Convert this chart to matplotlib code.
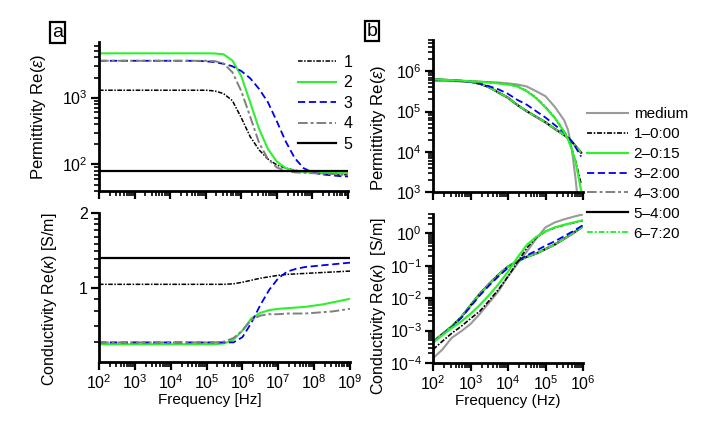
import numpy as np
import matplotlib
matplotlib.use("Agg")
import matplotlib.pyplot as plt
from matplotlib.ticker import LogLocator, FixedLocator, NullFormatter, FixedFormatter

plt.rcParams['font.family'] = ['Liberation Sans', 'DejaVu Sans']
plt.rcParams['mathtext.fontset'] = 'custom'
plt.rcParams['mathtext.rm'] = 'Liberation Sans'
plt.rcParams['mathtext.it'] = 'Liberation Sans:italic'
plt.rcParams['mathtext.bf'] = 'Liberation Sans:bold'

# ---------------- Panel a data ----------------
exp_a = [2.0, 2.25, 2.5, 2.75, 3.0, 3.25, 3.5, 3.75, 4.0, 4.25, 4.5, 4.75, 5.0, 5.25,
         5.5, 5.75, 6.0, 6.25, 6.5, 6.75, 7.0, 7.25, 7.5, 7.75, 8.0, 8.25, 8.5, 8.75, 9.0]
labels_a = ['1', '2', '3', '4', '5']

eps_a1 = [1290]*13 + [1260, 1150, 900, 500, 260, 165, 120, 98, 88, 82, 78, 75, 73, 72, 71, 70]
eps_a2 = [4600]*13 + [4580, 4450, 3600, 2100, 850, 340, 170, 110, 88, 80, 77, 76, 75, 75, 74, 74]
eps_a3 = [3560]*11 + [3540, 3500, 3400, 3200, 2950, 2500, 1950, 1350, 850, 440, 220, 125, 88,
                      76, 71, 69, 67, 66]
eps_a4 = [3560]*13 + [3520, 3250, 2400, 1250, 520, 210, 120, 90, 80, 76, 75, 74, 73, 72, 71, 70]
eps_a5 = [79]*29

sig_a1 = [1.03]*15 + [1.035, 1.05, 1.07, 1.09, 1.105, 1.12, 1.13, 1.135, 1.14, 1.145, 1.15,
                      1.155, 1.16, 1.165]
sig_a2 = [0.59]*13 + [0.59, 0.595, 0.615, 0.67, 0.75, 0.79, 0.81, 0.82, 0.825, 0.83, 0.835,
                      0.845, 0.855, 0.87, 0.885, 0.90]
sig_a3 = [0.60]*16 + [0.63, 0.72, 0.85, 0.98, 1.09, 1.16, 1.19, 1.21, 1.22, 1.23, 1.24, 1.25, 1.26]
sig_a4 = [0.60]*14 + [0.605, 0.625, 0.67, 0.74, 0.77, 0.78, 0.78, 0.785, 0.785, 0.785, 0.79,
                      0.795, 0.80, 0.81, 0.82]
sig_a5 = [1.32]*29

# ---------------- Panel b data ----------------
exp_b_eps = [2.0, 2.25, 2.5, 2.75, 3.0, 3.25, 3.5, 3.75, 4.0, 4.25, 4.5, 4.75, 5.0, 5.25,
             5.5, 5.6, 5.7, 5.8, 5.95]
exp_b_sig = [2.0, 2.25, 2.5, 2.75, 3.0, 3.25, 3.5, 3.75, 4.0, 4.25, 4.5, 4.75, 5.0, 5.25,
             5.5, 5.75, 6.0]
labels_b = ['medium', '1\u20130:00', '2\u20130:15', '3\u20132:00', '4\u20133:00',
            '5\u20134:00', '6\u20137:20']

eps_b_med = [5.75e5, 5.75e5, 5.7e5, 5.6e5, 5.6e5, 5.5e5, 5.4e5, 5.25e5, 5.0e5, 4.7e5, 4.2e5,
             3.2e5, 2.4e5, 1.3e5, 6.0e4, 3.5e4, 1.2e4, 2.2e3, 1.0e2]
eps_b1 = [6.2e5, 6.1e5, 6.0e5, 5.85e5, 5.6e5, 5.5e5, 5.3e5, 5.05e5, 4.75e5, 4.25e5, 3.25e5,
          2.2e5, 1.3e5, 7.0e4, 3.15e4, 2.1e4, 1.2e4, 6.0e3, 1.6e3]
eps_b2 = [6.3e5, 6.15e5, 6.0e5, 5.9e5, 5.6e5, 5.5e5, 5.25e5, 5.0e5, 4.7e5, 4.2e5, 3.2e5,
          2.15e5, 1.26e5, 6.9e4, 3.1e4, 2.05e4, 1.15e4, 5.75e3, 1.1e3]
eps_b3 = [6.3e5, 6.15e5, 6.0e5, 5.75e5, 5.5e5, 4.9e5, 4.25e5, 3.55e5, 2.75e5, 1.95e5, 1.48e5,
          1.02e5, 7.1e4, 4.6e4, 3.0e4, 2.35e4, 1.8e4, 1.3e4, 7.6e3]
eps_b4 = [6.4e5, 6.2e5, 6.05e5, 5.8e5, 5.5e5, 4.9e5, 4.0e5, 2.95e5, 2.2e5, 1.45e5, 1.02e5,
          7.4e4, 5.4e4, 3.7e4, 2.6e4, 2.2e4, 1.8e4, 1.4e4, 9.5e3]
eps_b5 = [6.3e5, 6.15e5, 6.0e5, 5.75e5, 5.5e5, 4.9e5, 4.0e5, 2.95e5, 2.2e5, 1.45e5, 1.02e5,
          7.4e4, 5.4e4, 3.7e4, 2.6e4, 2.2e4, 1.8e4, 1.4e4, 9.5e3]
eps_b6 = [6.3e5, 6.2e5, 6.0e5, 5.8e5, 5.5e5, 4.9e5, 4.0e5, 2.95e5, 2.2e5, 1.45e5, 1.02e5,
          7.4e4, 5.4e4, 3.7e4, 2.6e4, 2.2e4, 1.8e4, 1.4e4, 9.5e3]

sig_b_med = [1.4e-4, 2.6e-4, 6.0e-4, 9.5e-4, 1.6e-3, 3.3e-3, 7.4e-3, 1.66e-2, 4.7e-2, 0.115,
             0.275, 0.68, 1.55, 2.2, 2.75, 3.3, 3.9]
sig_b1 = [2.6e-4, 4.7e-4, 8.3e-4, 1.35e-3, 2.35e-3, 4.0e-3, 8.5e-3, 1.9e-2, 4.7e-2, 0.129,
          0.355, 0.74, 1.15, 1.51, 1.82, 2.14, 2.5]
sig_b2 = [4.2e-4, 7.2e-4, 1.2e-3, 1.9e-3, 3.3e-3, 6.2e-3, 1.26e-2, 2.75e-2, 6.6e-2, 0.18,
          0.44, 0.78, 1.17, 1.55, 1.86, 2.2, 2.57]
sig_b3 = [4.4e-4, 7.6e-4, 1.29e-3, 2.45e-3, 5.5e-3, 1.23e-2, 2.5e-2, 4.8e-2, 8.7e-2, 0.138,
          0.21, 0.295, 0.42, 0.575, 0.83, 1.2, 1.82]
sig_b4 = [4.5e-4, 7.8e-4, 1.35e-3, 2.6e-3, 6.0e-3, 1.38e-2, 2.8e-2, 5.4e-2, 9.5e-2, 0.138,
          0.19, 0.24, 0.33, 0.46, 0.69, 1.05, 1.66]
sig_b5 = [4.5e-4, 7.8e-4, 1.35e-3, 2.6e-3, 6.0e-3, 1.38e-2, 2.8e-2, 5.4e-2, 9.5e-2, 0.138,
          0.19, 0.24, 0.33, 0.46, 0.69, 1.05, 1.66]
sig_b6 = [4.5e-4, 7.8e-4, 1.35e-3, 2.6e-3, 6.0e-3, 1.38e-2, 2.8e-2, 5.4e-2, 9.5e-2, 0.138,
          0.19, 0.24, 0.33, 0.46, 0.69, 1.05, 1.66]

f_a = 10.0 ** np.array(exp_a)
f_be = 10.0 ** np.array(exp_b_eps)
f_bs = 10.0 ** np.array(exp_b_sig)

# ---------------- styles ----------------
GREEN = '#2ef02e'
GREY = '#808080'
MEDGREY = '#9a9a9a'
st_a = [
    dict(color='black', lw=1.1, ls=(0, (3, 1, 1, 1))),
    dict(color=GREEN, lw=1.5, ls='-'),
    dict(color='#0000ee', lw=1.3, ls=(0, (4, 2))),
    dict(color=GREY, lw=1.4, ls=(0, (5, 1.5, 1.5, 1.5))),
    dict(color='black', lw=1.6, ls='-'),
]
st_b = [
    dict(color=MEDGREY, lw=1.5, ls='-'),
    dict(color='black', lw=1.2, ls=(0, (3, 1, 1, 1))),
    dict(color=GREEN, lw=1.6, ls='-'),
    dict(color='#0000ee', lw=1.3, ls=(0, (4, 2))),
    dict(color=GREY, lw=1.4, ls=(0, (5, 1.5, 1.5, 1.5))),
    dict(color='black', lw=1.6, ls='-'),
    dict(color=GREEN, lw=1.4, ls=(0, (3, 1, 1, 1))),
]

W, H = 708, 423
fig = plt.figure(figsize=(W / 100, H / 100), dpi=100)

def rect(x0, x1, y0, y1):
    return [x0 / W, 1 - y1 / H, (x1 - x0) / W, (y1 - y0) / H]

ax_a1 = fig.add_axes(rect(99, 348, 42, 191))
ax_a2 = fig.add_axes(rect(99, 350, 213, 362))
ax_b1 = fig.add_axes(rect(433, 583, 40, 192))
ax_b2 = fig.add_axes(rect(433, 583, 214, 363))

def style(ax):
    for s in ['top', 'right']:
        ax.spines[s].set_visible(False)
    for s in ['left', 'bottom']:
        ax.spines[s].set_linewidth(2.0)
    ax.tick_params(which='major', direction='out', length=6, width=1.6, labelsize=11.5, pad=2)
    ax.tick_params(which='minor', direction='out', length=3.5, width=1.2)

def xlog(ax, lo, hi, labels=True):
    ax.set_xscale('log')
    ax.set_xlim(10.0 ** lo, 10.0 ** hi)
    ax.xaxis.set_major_locator(LogLocator(base=10, numticks=20))
    ax.xaxis.set_minor_locator(LogLocator(base=10, subs=np.arange(2, 10), numticks=20))
    ax.xaxis.set_minor_formatter(NullFormatter())
    if not labels:
        ax.tick_params(axis='x', which='both', labelbottom=False)

# ----- a top -----
eps_a = [eps_a1, eps_a2, eps_a3, eps_a4, eps_a5]
handles_a = []
for y, st, lab in zip(eps_a, st_a, labels_a):
    h, = ax_a1.plot(f_a, y, label=lab, **st)
    handles_a.append(h)
ax_a1.set_yscale('log')
ax_a1.set_ylim(40, 6800)
xlog(ax_a1, 2, 9, labels=False)
ax_a1.yaxis.set_minor_formatter(NullFormatter())
style(ax_a1)
ax_a1.set_ylabel(r'Permittivity Re($\varepsilon$)', fontsize=12)
ax_a1.yaxis.set_label_coords(-0.205, 0.5)

# ----- a bottom -----
sig_a = [sig_a1, sig_a2, sig_a3, sig_a4, sig_a5]
for y, st in zip(sig_a, st_a):
    ax_a2.plot(f_a, y, **st)
ax_a2.set_yscale('log')
ax_a2.set_ylim(0.5, 2.0)
ax_a2.yaxis.set_major_locator(FixedLocator([1, 2]))
ax_a2.yaxis.set_major_formatter(FixedFormatter(['1', '2']))
ax_a2.yaxis.set_minor_locator(FixedLocator([0.6, 0.7, 0.8, 0.9, 1.1, 1.2, 1.3, 1.4, 1.5,
                                            1.6, 1.7, 1.8, 1.9]))
ax_a2.yaxis.set_minor_formatter(NullFormatter())
xlog(ax_a2, 2, 9)
style(ax_a2)
ax_a2.set_ylabel(r'Conductivity Re($\kappa$) [S/m]', fontsize=11.5)
ax_a2.yaxis.set_label_coords(-0.16, 0.42)
ax_a2.set_xlabel('Frequency [Hz]', fontsize=11, labelpad=0)
ax_a2.xaxis.set_label_coords(0.44, -0.205)

# ----- b top -----
eps_b = [eps_b_med, eps_b1, eps_b2, eps_b3, eps_b4, eps_b5, eps_b6]
order = [0, 5, 4, 6, 3, 1, 2]
hd = {}
for i in order:
    h, = ax_b1.plot(f_be, eps_b[i], label=labels_b[i], **st_b[i])
    hd[i] = h
handles_b = [hd[i] for i in range(7)]
ax_b1.set_yscale('log')
ax_b1.set_ylim(1e3, 6e6)
xlog(ax_b1, 2, 6, labels=False)
ax_b1.yaxis.set_major_locator(LogLocator(base=10, numticks=20))
ax_b1.yaxis.set_minor_locator(LogLocator(base=10, subs=np.arange(2, 10), numticks=20))
ax_b1.yaxis.set_minor_formatter(NullFormatter())
style(ax_b1)
ax_b1.set_ylabel(r'Permittivity Re($\varepsilon$)', fontsize=12)
ax_b1.yaxis.set_label_coords(-0.30, 0.42)

# ----- b bottom -----
sig_b = [sig_b_med, sig_b1, sig_b2, sig_b3, sig_b4, sig_b5, sig_b6]
for i in order:
    ax_b2.plot(f_bs, sig_b[i], **st_b[i])
ax_b2.set_yscale('log')
ax_b2.set_ylim(1e-4, 4)
ax_b2.yaxis.set_major_locator(LogLocator(base=10, numticks=20))
ax_b2.yaxis.set_minor_locator(LogLocator(base=10, subs=np.arange(2, 10), numticks=20))
ax_b2.yaxis.set_minor_formatter(NullFormatter())
xlog(ax_b2, 2, 6)
style(ax_b2)
ax_b2.set_ylabel(r'Conductivity Re($\kappa$)  [S/m]', fontsize=11.5)
ax_b2.yaxis.set_label_coords(-0.30, 0.38)
ax_b2.set_xlabel('Frequency (Hz)', fontsize=11, labelpad=0)
ax_b2.xaxis.set_label_coords(0.5, -0.205)

# ----- legends -----
fig.legend(handles_a, labels_a, loc='upper left', bbox_to_anchor=(298 / W, 1 - 55 / H),
           frameon=False, fontsize=11.5, handlelength=2.4, handletextpad=0.45,
           labelspacing=0.34, borderpad=0, borderaxespad=0)
fig.legend(handles_b, labels_b, loc='upper left', bbox_to_anchor=(587 / W, 1 - 107 / H),
           frameon=False, fontsize=11, handlelength=2.7, handletextpad=0.35,
           labelspacing=0.39, borderpad=0, borderaxespad=0)

# ----- panel letters -----
for x, y, t in [(57.5, 32.5, 'a'), (372, 31, 'b')]:
    fig.text(x / W, 1 - y / H, t, fontsize=14, ha='center', va='center',
             bbox=dict(boxstyle='square,pad=0.08', fc='white', ec='black', lw=1.6))

fig.savefig('out.png', dpi=100)
